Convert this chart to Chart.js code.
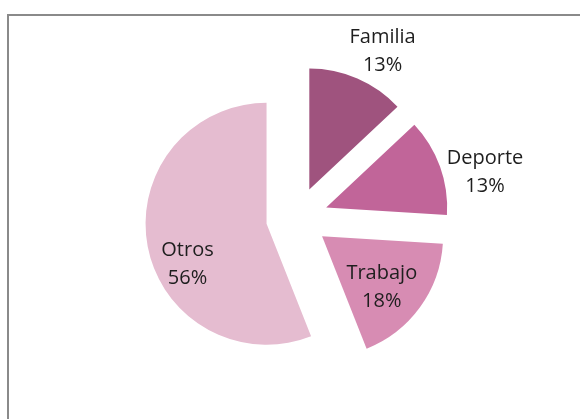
<!DOCTYPE html>
<html>
<head>
<meta charset="utf-8">
<script src="https://cdn.jsdelivr.net/npm/chart.js@4"></script>
<style>
    html, body { margin: 0; padding: 0; background: #fff; }
    #wrap { position: relative; width: 580px; height: 419px; overflow: hidden; }
    #frame {
        position: absolute; left: 7px; top: 14px; width: 600px; height: 420px;
        border-left: 2px solid #8a8a8a; border-top: 2px solid #8a8a8a;
    }
    #pie { position: absolute; left: 0; top: 0; }
</style>
</head>
<body>
<div id="wrap">
    <div id="frame"></div>
    <canvas id="pie" width="580" height="419"></canvas>
</div>
<script>
const categories = ["Familia", "Deporte", "Trabajo", "Otros"];
const values = [13, 13, 18, 56];
const pct_labels = ["13%", "13%", "18%", "56%"];

const colors = ["#9f537e", "#c16599", "#d78cb3", "#e5bcd0"];

// how far each slice is pulled out of the pie (px)
const EXPLODE = 31;

// label placement: distance as part of the radius, angle shift in degrees
const label_r = [1.29, 1.345, 0.65, 0.735];
const label_shift = [4.6, 7.2, 4.6, -16.5];

const explodePlugin = {
    id: "explode",
    afterDatasetUpdate(chart, args) {
        args.meta.data.forEach(arc => {
            const mid = (arc.startAngle + arc.endAngle) / 2;
            arc.x += Math.cos(mid) * EXPLODE;
            arc.y += Math.sin(mid) * EXPLODE;
        });
    }
};

const labelPlugin = {
    id: "pieLabels",
    afterDatasetsDraw(chart) {
        const ctx = chart.ctx;
        const arcs = chart.getDatasetMeta(0).data;
        ctx.save();
        ctx.font = "20px 'Open Sans'";
        ctx.fillStyle = "#1e1e1e";
        ctx.textAlign = "center";
        ctx.textBaseline = "middle";
        arcs.forEach((arc, i) => {
            const ang = (arc.startAngle + arc.endAngle) / 2 + label_shift[i] * Math.PI / 180;
            const r = arc.outerRadius * label_r[i];
            const x = arc.x + Math.cos(ang) * r;
            const y = arc.y + Math.sin(ang) * r;
            ctx.fillText(categories[i], x, y - 14);
            ctx.fillText(pct_labels[i], x, y + 14);
        });
        ctx.restore();
    }
};

const ctx = document.getElementById("pie").getContext("2d");
new Chart(ctx, {
    type: "pie",
    data: {
        labels: categories,
        datasets: [{
            data: values,
            backgroundColor: colors,
            borderWidth: 0
        }]
    },
    options: {
        responsive: false,
        animation: false,
        radius: 121,
        layout: { padding: { left: 14, right: 0, top: 17, bottom: 0 } },
        plugins: {
            legend: { display: false },
            tooltip: { enabled: false }
        }
    },
    plugins: [explodePlugin, labelPlugin]
});
</script>
</body>
</html>
